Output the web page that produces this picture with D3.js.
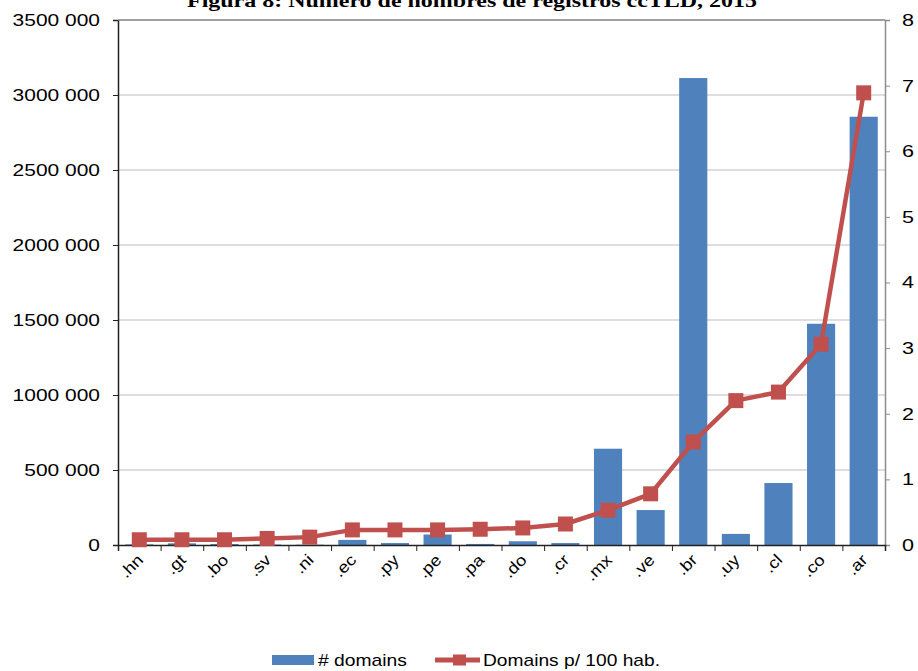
<!DOCTYPE html>
<html>
<head>
<meta charset="utf-8">
<script src="https://cdn.jsdelivr.net/npm/d3@7"></script>
<style>
  body { margin: 0; background: #fff; }
  svg { display: block; }
  text { font-family: "Liberation Sans", Arial, sans-serif; fill: #000; }
</style>
</head>
<body>
<svg id="chart" width="918" height="671"></svg>
<script>
// ccTLD registrations per country, 2015
const categories = [".hn", ".gt", ".bo", ".sv", ".ni", ".ec", ".py", ".pe", ".pa", ".do", ".cr", ".mx", ".ve", ".br", ".uy", ".cl", ".co", ".ar"];
const domains = [4000, 11000, 6000, 3000, 2000, 34000, 13000, 70000, 7000, 25000, 13000, 642000, 233000, 3113000, 74000, 413000, 1475000, 2855000];
const domainsPer100 = [0.08, 0.08, 0.08, 0.10, 0.12, 0.23, 0.23, 0.23, 0.24, 0.26, 0.32, 0.53, 0.78, 1.57, 2.20, 2.33, 3.06, 6.89];
const leftTicks = [0, 500000, 1000000, 1500000, 2000000, 2500000, 3000000, 3500000];
const leftTickLabels = ["0", "500 000", "1000 000", "1500 000", "2000 000", "2500 000", "3000 000", "3500 000"];
const rightTicks = [0, 1, 2, 3, 4, 5, 6, 7, 8];
const titleText = "Figura 8: Número de nombres de registros ccTLD, 2015";
const seriesNames = ["# domains", "Domains p/ 100 hab."];

const blue = "#4F81BD", red = "#C0504D";
const svg = d3.select("#chart");
const L = 118, R = 885, T = 20, B = 545;

const x = d3.scaleBand(categories, [L, R]).paddingInner(0.34).paddingOuter(0.17);
const xEdges = d3.scaleLinear([0, categories.length], [L, R]);
const yL = d3.scaleLinear([0, 3500000], [B, T]);
const yR = d3.scaleLinear([0, 8], [B, T]);

// stretch a text node to a given width
function fit(node, w) {
  node.setAttribute("textLength", w);
  node.setAttribute("lengthAdjust", "spacingAndGlyphs");
}
function stretch(sel, k) {
  sel.each(function () { fit(this, this.getComputedTextLength() * k); });
}

// title (runs past the top edge of the page)
const title = svg.append("text")
  .attr("x", 472).attr("y", 7)
  .attr("text-anchor", "middle")
  .style("font-family", "'Liberation Serif', 'Times New Roman', serif")
  .style("font-weight", "bold").style("font-size", "19px")
  .text(titleText);
fit(title.node(), 570);

// gridlines
svg.append("g").selectAll("line")
  .data(leftTicks.slice(1))
  .join("line")
  .attr("x1", L).attr("x2", R)
  .attr("y1", d => yL(d)).attr("y2", d => yL(d))
  .attr("stroke", "#BEBEBE").attr("stroke-width", 1.2);

// bars
svg.append("g").selectAll("rect")
  .data(categories)
  .join("rect")
  .attr("x", d => x(d))
  .attr("width", x.bandwidth())
  .attr("y", (d, i) => yL(domains[i]))
  .attr("height", (d, i) => B - yL(domains[i]))
  .attr("fill", blue);

// left axis
const gL = svg.append("g").attr("transform", `translate(${L},0)`)
  .call(d3.axisLeft(yL).tickValues(leftTicks).tickSize(5).tickPadding(13)
    .tickFormat((d, i) => leftTickLabels[i]));
gL.select(".domain").attr("stroke", "#222").attr("stroke-width", 1.5);
gL.selectAll(".tick line").attr("stroke", "#222");
gL.selectAll(".tick text").style("font-size", "16.5px").attr("fill", "#000");
stretch(gL.selectAll(".tick text"), 1.27);

// right axis
const gR = svg.append("g").attr("transform", `translate(${R},0)`)
  .call(d3.axisRight(yR).tickValues(rightTicks).tickSize(5).tickPadding(12).tickFormat(d3.format("d")));
gR.select(".domain").attr("stroke", "#8C8C8C").attr("stroke-width", 1.5);
gR.selectAll(".tick line").attr("stroke", "#8C8C8C");
gR.selectAll(".tick text").style("font-size", "17px").attr("fill", "#000");
stretch(gR.selectAll(".tick text"), 1.27);

// x axis: ticks between categories
const gX = svg.append("g").attr("transform", `translate(0,${B})`)
  .call(d3.axisBottom(xEdges).tickValues(d3.range(categories.length + 1)).tickSize(6).tickFormat(""));
gX.select(".domain").attr("stroke", "#222").attr("stroke-width", 1.5);
gX.selectAll(".tick line").attr("stroke", "#222");

// top border
svg.append("line").attr("x1", L).attr("x2", R).attr("y1", T).attr("y2", T)
  .attr("stroke", "#8C8C8C").attr("stroke-width", 1.5);

// category labels
const xl = svg.append("g").selectAll("text")
  .data(categories)
  .join("text")
  .attr("transform", d => `translate(${x(d) + x.bandwidth() / 2 + 1},557) rotate(-45)`)
  .attr("text-anchor", "end")
  .attr("dy", "0.35em")
  .style("font-size", "16px")
  .text(d => d);
stretch(xl, 1.15);

// line series
const px = (d, i) => x(categories[i]) + x.bandwidth() / 2;
svg.append("path")
  .datum(domainsPer100)
  .attr("d", d3.line().x(px).y(d => yR(d)))
  .attr("fill", "none").attr("stroke", red).attr("stroke-width", 4.5)
  .attr("stroke-linejoin", "round");
svg.append("g").selectAll("rect")
  .data(domainsPer100)
  .join("rect")
  .attr("x", (d, i) => px(d, i) - 7.5)
  .attr("y", d => yR(d) - 7.5)
  .attr("width", 15).attr("height", 15)
  .attr("fill", red);

// legend
const lg = svg.append("g");
lg.append("rect").attr("x", 272).attr("y", 655).attr("width", 42).attr("height", 10).attr("fill", blue);
const t1 = lg.append("text").attr("x", 318).attr("y", 660).attr("dy", "0.35em")
  .style("font-size", "17px").text(seriesNames[0]);
fit(t1.node(), 89);
lg.append("line").attr("x1", 435).attr("x2", 480).attr("y1", 660).attr("y2", 660)
  .attr("stroke", red).attr("stroke-width", 5);
lg.append("rect").attr("x", 453).attr("y", 654.5).attr("width", 13).attr("height", 11).attr("fill", red);
const t2 = lg.append("text").attr("x", 483).attr("y", 660).attr("dy", "0.35em")
  .style("font-size", "17px").text(seriesNames[1]);
fit(t2.node(), 177);
</script>
</body>
</html>
